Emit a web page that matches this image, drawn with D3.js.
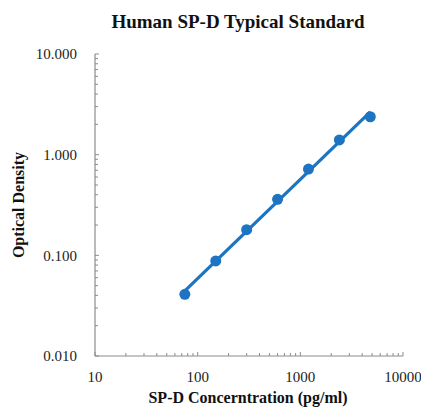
<!DOCTYPE html>
<html>
<head>
<meta charset="utf-8">
<script src="https://cdn.jsdelivr.net/npm/d3@7"></script>
<style>
  body { margin: 0; background: #fff; }
  text { font-family: "Liberation Serif", "Times New Roman", serif; }
</style>
</head>
<body>
<div id="vis"></div>
<script>
const width = 421;
const height = 408;

// standard curve points (pg/ml vs OD)
const concentrations = [75, 150, 300, 600, 1200, 2400, 4800];
const odValues = [0.041, 0.088, 0.18, 0.36, 0.72, 1.40, 2.38];

const xTicks = [10, 100, 1000, 10000];
const yTicks = [0.01, 0.1, 1, 10];

const margin = { top: 54, right: 18, bottom: 52, left: 95 };

const svg = d3.select("#vis")
    .append("svg")
    .attr("width", width)
    .attr("height", height);

const x = d3.scaleLog()
    .domain([10, 10000])
    .range([margin.left, width - margin.right]);

const y = d3.scaleLog()
    .domain([0.01, 10])
    .range([height - margin.bottom, margin.top]);

const axisColor = "#8c8c8c";

// minor ticks 2..9 in each decade
const minorX = [];
for (let d = 10; d < 10000; d *= 10) for (let k = 2; k <= 9; k++) minorX.push(d * k);
const minorY = [];
for (let d = 0.01; d < 9; d *= 10) for (let k = 2; k <= 9; k++) minorY.push(d * k);

// axes lines
svg.append("line")
    .attr("x1", x(10)).attr("x2", x(10))
    .attr("y1", y(10)).attr("y2", y(0.01))
    .attr("stroke", axisColor).attr("stroke-width", 1.2);
svg.append("line")
    .attr("x1", x(10)).attr("x2", x(10000))
    .attr("y1", y(0.01)).attr("y2", y(0.01))
    .attr("stroke", axisColor).attr("stroke-width", 1.2);

// y ticks (inward)
svg.append("g").selectAll("line.minor")
    .data(minorY)
    .join("line")
    .attr("x1", x(10)).attr("x2", x(10) + 3)
    .attr("y1", d => y(d)).attr("y2", d => y(d))
    .attr("stroke", axisColor);
svg.append("g").selectAll("line")
    .data(yTicks)
    .join("line")
    .attr("x1", x(10)).attr("x2", x(10) + 4)
    .attr("y1", d => y(d)).attr("y2", d => y(d))
    .attr("stroke", axisColor);

// x ticks (inward)
svg.append("g").selectAll("line")
    .data(minorX)
    .join("line")
    .attr("x1", d => x(d)).attr("x2", d => x(d))
    .attr("y1", y(0.01)).attr("y2", y(0.01) - 3)
    .attr("stroke", axisColor);
svg.append("g").selectAll("line")
    .data(xTicks)
    .join("line")
    .attr("x1", d => x(d)).attr("x2", d => x(d))
    .attr("y1", y(0.01)).attr("y2", y(0.01) - 4)
    .attr("stroke", axisColor);

// tick labels
svg.append("g").selectAll("text")
    .data(yTicks)
    .join("text")
    .attr("x", x(10) - 18)
    .attr("y", d => y(d))
    .attr("dy", "0.35em")
    .attr("text-anchor", "end")
    .attr("font-size", 15)
    .attr("fill", "#222")
    .text(d => d3.format(".3f")(d));

svg.append("g").selectAll("text")
    .data(xTicks)
    .join("text")
    .attr("x", d => x(d))
    .attr("y", y(0.01) + 26)
    .attr("text-anchor", "middle")
    .attr("font-size", 15)
    .attr("fill", "#222")
    .text(d => d);

// titles
svg.append("text")
    .attr("x", 238)
    .attr("y", 28)
    .attr("text-anchor", "middle")
    .attr("font-size", 19)
    .attr("font-weight", "bold")
    .attr("fill", "#111")
    .text("Human SP-D Typical Standard");

svg.append("text")
    .attr("x", 248)
    .attr("y", 403)
    .attr("text-anchor", "middle")
    .attr("font-size", 16)
    .attr("font-weight", "bold")
    .attr("fill", "#111")
    .text("SP-D Concerntration (pg/ml)");

svg.append("text")
    .attr("transform", `translate(24, ${(y(10) + y(0.01)) / 2}) rotate(-90)`)
    .attr("text-anchor", "middle")
    .attr("font-size", 16)
    .attr("font-weight", "bold")
    .attr("fill", "#111")
    .text("Optical Density");

// power trendline fitted in log-log space
const lx = concentrations.map(Math.log10);
const ly = odValues.map(Math.log10);
const mx = d3.mean(lx), my = d3.mean(ly);
const slope = d3.sum(lx, (v, i) => (v - mx) * (ly[i] - my)) / d3.sum(lx, v => (v - mx) ** 2);
const icpt = my - slope * mx;
const fitEnds = [concentrations[0], concentrations[concentrations.length - 1]];

const blue = "#1c74c2";

svg.append("path")
    .datum(fitEnds)
    .attr("fill", "none")
    .attr("stroke", blue)
    .attr("stroke-width", 3.2)
    .attr("d", d3.line()
        .x(d => x(d))
        .y(d => y(10 ** (icpt + slope * Math.log10(d)))));

svg.append("g").selectAll("circle")
    .data(concentrations)
    .join("circle")
    .attr("cx", d => x(d))
    .attr("cy", (d, i) => y(odValues[i]))
    .attr("r", 5.5)
    .attr("fill", blue);
</script>
</body>
</html>
